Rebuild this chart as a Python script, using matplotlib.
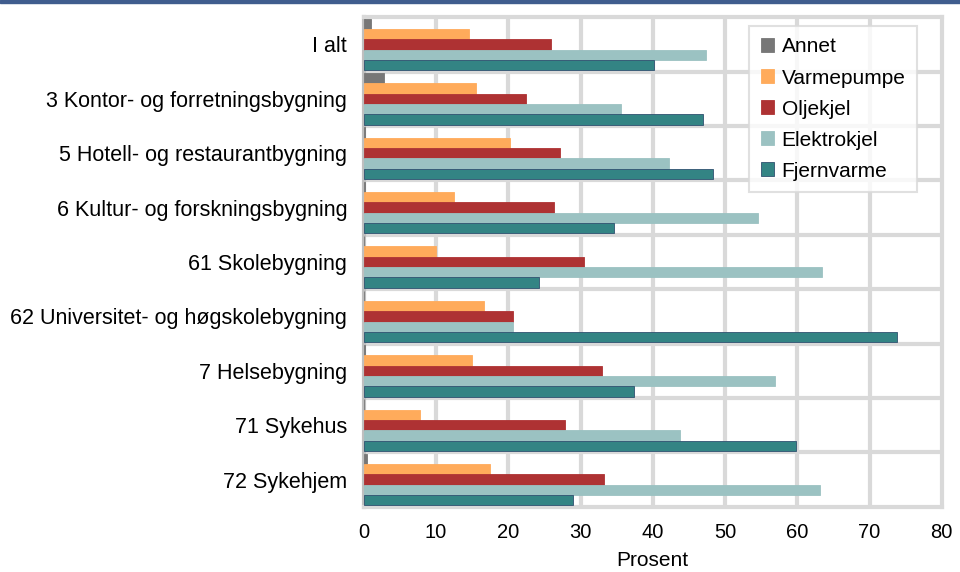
import numpy as np
import matplotlib
matplotlib.use("Agg")
import matplotlib.pyplot as plt

plt.rcParams["font.family"] = ["Liberation Sans", "DejaVu Sans"]

categories = [
    "I alt",
    "3 Kontor- og forretningsbygning",
    "5 Hotell- og restaurantbygning",
    "6 Kultur- og forskningsbygning",
    "61 Skolebygning",
    "62 Universitet- og høgskolebygning",
    "7 Helsebygning",
    "71 Sykehus",
    "72 Sykehjem",
]

series = ["Annet", "Varmepumpe", "Oljekjel", "Elektrokjel", "Fjernvarme"]

annet = [1.0, 2.8, 0.1, 0.1, 0.0, 0.0, 0.2, 0.0, 0.5]
varmepumpe = [14.5, 15.5, 20.3, 12.5, 10.0, 16.7, 15.0, 7.8, 17.4]
oljekjel = [25.9, 22.5, 27.2, 26.3, 30.5, 20.7, 32.9, 27.9, 33.2]
elektrokjel = [47.3, 35.6, 42.3, 54.6, 63.4, 20.6, 56.9, 43.8, 63.1]
fjernvarme = [40.2, 46.9, 48.4, 34.6, 24.3, 73.8, 37.4, 59.8, 29.0]

values = [annet, varmepumpe, oljekjel, elektrokjel, fjernvarme]
colors = ["#777777", "#ffab5b", "#ae3233", "#9bc2c2", "#338484"]
edges = ["#777777", "#ffab5b", "#ae3233", "#9bc2c2", "#2f5170"]

fig = plt.figure(figsize=(9.6, 5.72), dpi=100)
ax = fig.add_axes([0.379, 0.114, 0.602, 0.856])

# thin dark band along the top edge of the figure
fig.patches.append(plt.Rectangle((0, 0.994), 1, 0.006, transform=fig.transFigure,
                                 color="#405d8e", zorder=5))

y = np.arange(len(categories))
h = 0.19
for k, (name, vals) in enumerate(zip(series, values)):
    offs = (k - 2) * h
    ax.barh(y + offs, vals, height=h, color=colors[k], edgecolor=edges[k],
            linewidth=0.6, label=name, zorder=3)

ax.set_xlim(0, 80)
ax.set_ylim(len(categories) - 0.5, -0.5)
ax.set_xticks(np.arange(0, 81, 10))
ax.set_yticks(y)
ax.set_yticklabels(categories, fontsize=15.5)

# grid: vertical at ticks, horizontal between groups
for xv in range(10, 80, 10):
    ax.axvline(xv, color="#d9d9d9", lw=3, zorder=1)
for yv in np.arange(0.5, len(categories) - 0.5, 1):
    ax.axhline(yv, color="#d9d9d9", lw=3, zorder=1)

for side in ["top", "right", "bottom"]:
    ax.spines[side].set_color("#d9d9d9")
    ax.spines[side].set_linewidth(3)
ax.spines["left"].set_color("#bfbfbf")
ax.spines["left"].set_linewidth(3)

ax.tick_params(axis="both", length=0, colors="black")
ax.tick_params(axis="x", labelsize=14.5, pad=12)
ax.tick_params(axis="y", pad=12)
ax.set_xlabel("Prosent", fontsize=15, labelpad=6)

leg = ax.legend(loc="upper right", bbox_to_anchor=(0.957, 0.982), fontsize=15,
                frameon=True, fancybox=False, handlelength=0.65, handleheight=0.65,
                handletextpad=0.35, labelspacing=0.58, borderpad=0.55,
                borderaxespad=0)
leg.get_frame().set_edgecolor("#d9d9d9")
leg.get_frame().set_linewidth(1.5)
leg.set_zorder(6)

fig.savefig("out.png", dpi=100)
